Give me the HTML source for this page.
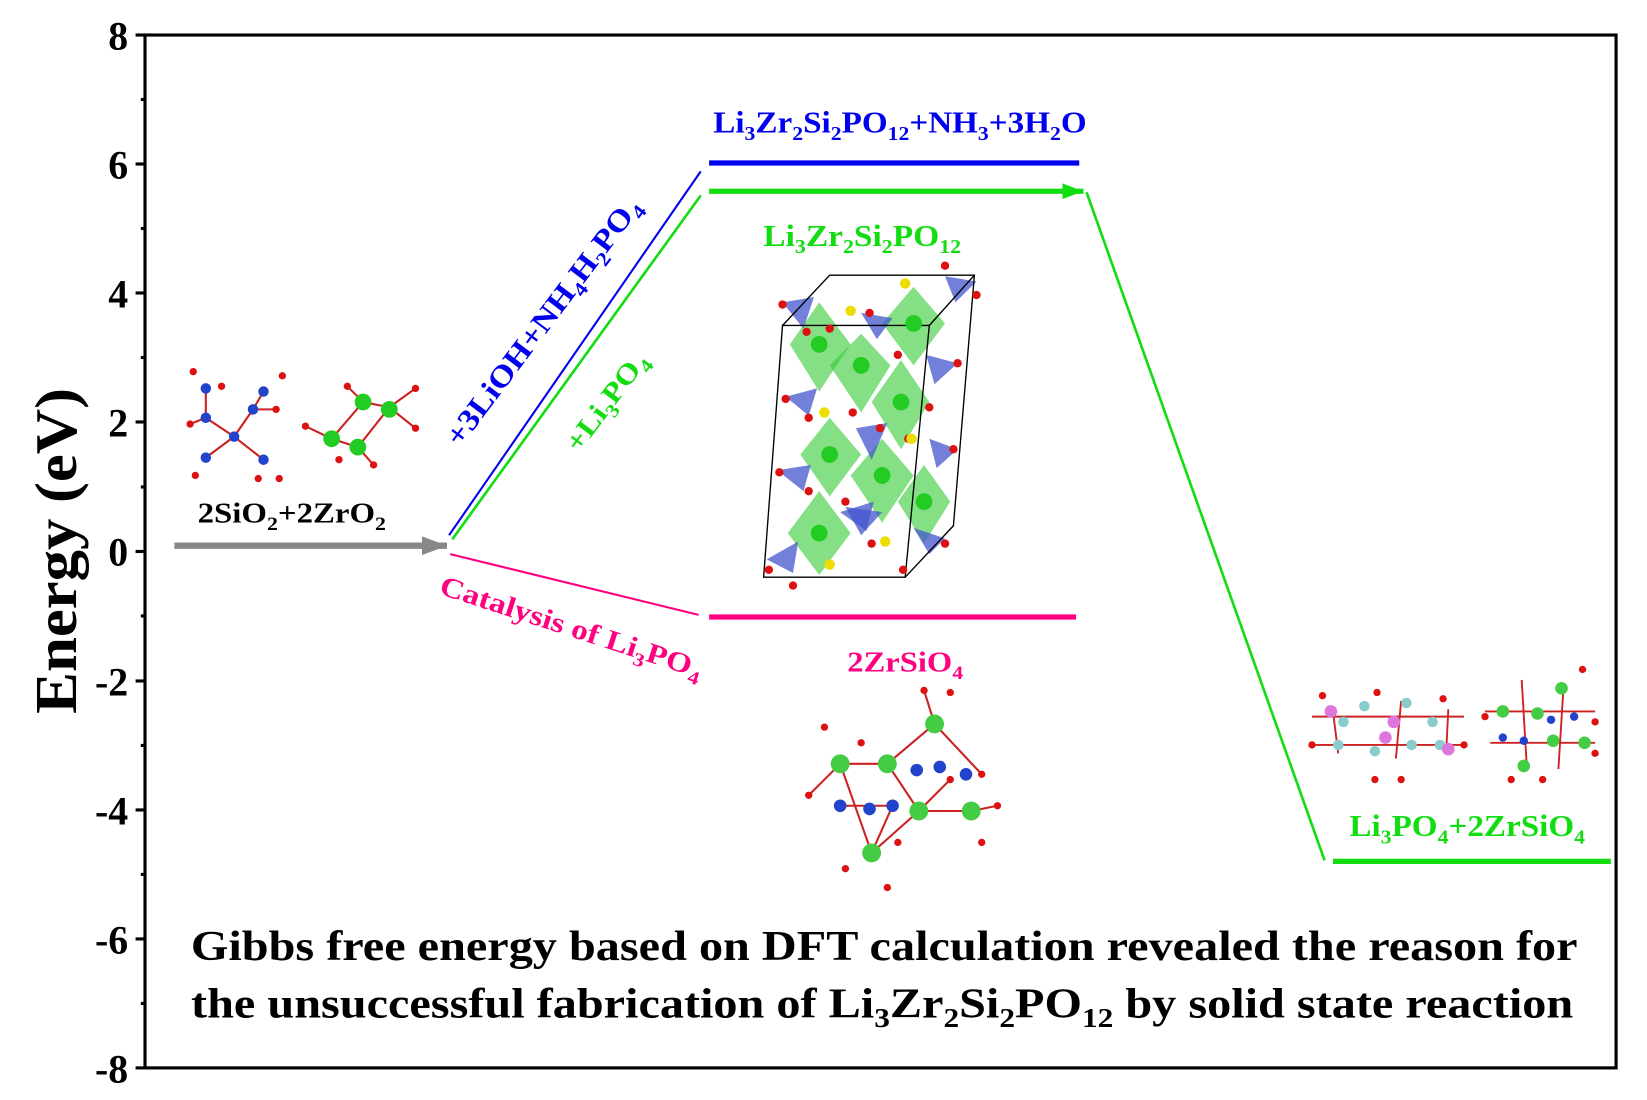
<!DOCTYPE html>
<html><head><meta charset="utf-8"><style>
html,body{margin:0;padding:0;background:#fff}
svg{display:block}
text{font-family:"Liberation Serif",serif;font-weight:bold}
</style></head><body>
<svg width="1647" height="1100" viewBox="-1.3 1.6 1570.8 1049" preserveAspectRatio="none" xmlns="http://www.w3.org/2000/svg">
<defs>
<marker id="ag" markerWidth="4" markerHeight="3" refX="4" refY="1.5" orient="auto" markerUnits="strokeWidth"><path d="M0,0 L4,1.5 L0,3 z" fill="#888"/></marker>
<marker id="agr" markerWidth="4" markerHeight="3" refX="4" refY="1.5" orient="auto" markerUnits="strokeWidth"><path d="M0,0 L4,1.5 L0,3 z" fill="#11dd11"/></marker>
</defs>
<rect x="137" y="35" width="1403" height="985" fill="none" stroke="#000" stroke-width="3"/>
<g stroke="#000" stroke-width="3">
<line x1="128" y1="35" x2="137" y2="35"/><line x1="128" y1="158" x2="137" y2="158"/><line x1="128" y1="281" x2="137" y2="281"/><line x1="128" y1="404" x2="137" y2="404"/><line x1="128" y1="527.5" x2="137" y2="527.5"/><line x1="128" y1="651" x2="137" y2="651"/><line x1="128" y1="774" x2="137" y2="774"/><line x1="128" y1="897" x2="137" y2="897"/><line x1="128" y1="1020" x2="137" y2="1020"/>
<line x1="133" y1="96.5" x2="137" y2="96.5"/><line x1="133" y1="219.5" x2="137" y2="219.5"/><line x1="133" y1="342.5" x2="137" y2="342.5"/><line x1="133" y1="466" x2="137" y2="466"/><line x1="133" y1="589" x2="137" y2="589"/><line x1="133" y1="712.5" x2="137" y2="712.5"/><line x1="133" y1="835.5" x2="137" y2="835.5"/><line x1="133" y1="958.5" x2="137" y2="958.5"/>
</g>
<g font-size="38" text-anchor="end" fill="#000">
<text x="121" y="49">8</text><text x="121" y="172">6</text><text x="121" y="295">4</text><text x="121" y="418">2</text><text x="121" y="541">0</text><text x="121" y="665">-2</text><text x="121" y="788">-4</text><text x="121" y="911">-6</text><text x="121" y="1034">-8</text>
</g>
<text transform="translate(71,527) rotate(-90) scale(1.05,1)" font-size="57" text-anchor="middle">Energy (eV)</text>

<!-- lines -->
<line x1="165" y1="522" x2="425" y2="522" stroke="#888" stroke-width="6" marker-end="url(#ag)"/>
<line x1="427" y1="512" x2="667" y2="165" stroke="#0000ee" stroke-width="2"/>
<line x1="430" y1="516" x2="667" y2="188" stroke="#11dd11" stroke-width="2.5"/>
<line x1="428" y1="530" x2="665" y2="588" stroke="#ff0080" stroke-width="2"/>
<line x1="675" y1="157" x2="1028" y2="157" stroke="#0000ee" stroke-width="5"/>
<line x1="675" y1="184" x2="1032" y2="184" stroke="#11dd11" stroke-width="5" marker-end="url(#agr)"/>
<line x1="1035" y1="185" x2="1262" y2="822" stroke="#11dd11" stroke-width="2.5"/>
<line x1="1270" y1="823" x2="1535" y2="823" stroke="#11dd11" stroke-width="5"/>
<line x1="675" y1="590" x2="1025" y2="590" stroke="#ff0080" stroke-width="5"/>

<!-- labels -->
<text transform="translate(857,128) scale(1.09,1)" font-size="29" fill="#0000ee" text-anchor="middle">Li<tspan font-size="19" dy="7">3</tspan><tspan dy="-7">Zr</tspan><tspan font-size="19" dy="7">2</tspan><tspan dy="-7">Si</tspan><tspan font-size="19" dy="7">2</tspan><tspan dy="-7">PO</tspan><tspan font-size="19" dy="7">12</tspan><tspan dy="-7">+NH</tspan><tspan font-size="19" dy="7">3</tspan><tspan dy="-7">+3H</tspan><tspan font-size="19" dy="7">2</tspan><tspan dy="-7">O</tspan></text>
<text transform="translate(821,236) scale(1.1,1)" font-size="29" fill="#11dd11" text-anchor="middle">Li<tspan font-size="19" dy="7">3</tspan><tspan dy="-7">Zr</tspan><tspan font-size="19" dy="7">2</tspan><tspan dy="-7">Si</tspan><tspan font-size="19" dy="7">2</tspan><tspan dy="-7">PO</tspan><tspan font-size="19" dy="7">12</tspan></text>
<text transform="translate(277,500) scale(1.16,1)" font-size="27" fill="#000" text-anchor="middle">2SiO<tspan font-size="18" dy="7">2</tspan><tspan dy="-7">+2ZrO</tspan><tspan font-size="18" dy="7">2</tspan></text>
<text transform="translate(862,642) scale(1.15,1)" font-size="27" fill="#ff0080" text-anchor="middle">2ZrSiO<tspan font-size="18" dy="7">4</tspan></text>
<text transform="translate(1398,799) scale(1.09,1)" font-size="29" fill="#11dd11" text-anchor="middle">Li<tspan font-size="19" dy="7">3</tspan><tspan dy="-7">PO</tspan><tspan font-size="19" dy="7">4</tspan><tspan dy="-7">+2ZrSiO</tspan><tspan font-size="19" dy="7">4</tspan></text>
<text transform="translate(524,314) rotate(-53) scale(1.13,1)" font-size="29" fill="#0000ee" text-anchor="middle">+3LiOH+NH<tspan font-size="19" dy="7">4</tspan><tspan dy="-7">H</tspan><tspan font-size="19" dy="7">2</tspan><tspan dy="-7">PO</tspan><tspan font-size="19" dy="7">4</tspan></text>
<text transform="translate(584,390) rotate(-53) scale(1.15,1)" font-size="27" fill="#11dd11" text-anchor="middle">+Li<tspan font-size="18" dy="7">3</tspan><tspan dy="-7">PO</tspan><tspan font-size="18" dy="7">4</tspan></text>
<text transform="translate(541,608) rotate(18) scale(1.18,1)" font-size="27" fill="#ff0080" text-anchor="middle">Catalysis of Li<tspan font-size="18" dy="7">3</tspan><tspan dy="-7">PO</tspan><tspan font-size="18" dy="7">4</tspan></text>

<g font-size="40" fill="#000" text-anchor="middle">
<text transform="translate(842,917) scale(1.15,1)">Gibbs free energy based on DFT calculation revealed the reason for</text>
<text transform="translate(840,972) scale(1.15,1)">the unsuccessful fabrication of Li<tspan font-size="26" dy="9">3</tspan><tspan dy="-9">Zr</tspan><tspan font-size="26" dy="9">2</tspan><tspan dy="-9">Si</tspan><tspan font-size="26" dy="9">2</tspan><tspan dy="-9">PO</tspan><tspan font-size="26" dy="9">12</tspan><tspan dy="-9"> by solid state reaction</tspan></text>
</g>

<!-- crystal Li3Zr2Si2PO12 -->
<g>
<g fill="#33cc33" fill-opacity="0.6">
<polygon points="780,290 810,330 780,375 752,330"/>
<polygon points="870,275 900,310 870,350 840,310"/>
<polygon points="820,320 848,350 820,395 790,350"/>
<polygon points="858,345 885,385 858,430 830,385"/>
<polygon points="790,400 820,435 790,475 762,435"/>
<polygon points="840,420 870,455 840,500 810,455"/>
<polygon points="880,445 905,480 880,520 855,480"/>
<polygon points="780,470 810,510 780,550 750,510"/>
</g>
<g fill="#4455cc" fill-opacity="0.75">
<polygon points="745,290 775,285 765,315"/><polygon points="820,300 850,305 835,325"/><polygon points="900,265 930,270 910,290"/>
<polygon points="748,380 778,372 770,398"/><polygon points="882,340 912,348 890,368"/><polygon points="815,410 845,405 830,440"/>
<polygon points="740,450 772,445 765,470"/><polygon points="885,420 912,430 892,448"/><polygon points="800,490 832,480 825,508"/>
<polygon points="730,535 760,518 755,548"/><polygon points="870,505 900,515 885,530"/><polygon points="805,485 840,490 820,512"/>
</g>
<g fill="none" stroke="#000" stroke-width="1.3">
<polygon points="745,312 885,312 862,552 727,552"/><polyline points="745,312 790,264 928,264 908,503 862,552"/><line x1="885" y1="312" x2="928" y2="264"/>
</g>
<g fill="#22cc22"><circle cx="780" cy="330" r="8"/><circle cx="870" cy="310" r="8"/><circle cx="820" cy="350" r="8"/><circle cx="858" cy="385" r="8"/><circle cx="790" cy="435" r="8"/><circle cx="840" cy="455" r="8"/><circle cx="880" cy="480" r="8"/><circle cx="780" cy="510" r="8"/></g>
<g fill="#dd1111"><circle cx="745" cy="292" r="4"/><circle cx="768" cy="318" r="4"/><circle cx="790" cy="315" r="4"/><circle cx="855" cy="340" r="4"/><circle cx="828" cy="300" r="4"/><circle cx="912" cy="348" r="4"/><circle cx="748" cy="382" r="4"/><circle cx="770" cy="400" r="4"/><circle cx="838" cy="410" r="4"/><circle cx="865" cy="420" r="4"/><circle cx="742" cy="452" r="4"/><circle cx="770" cy="470" r="4"/><circle cx="805" cy="480" r="4"/><circle cx="900" cy="520" r="4"/><circle cx="732" cy="545" r="4"/><circle cx="755" cy="560" r="4"/><circle cx="860" cy="545" r="4"/><circle cx="930" cy="283" r="4"/><circle cx="900" cy="255" r="4"/><circle cx="812" cy="395" r="4"/><circle cx="885" cy="390" r="4"/><circle cx="830" cy="520" r="4"/><circle cx="908" cy="430" r="4"/></g>
<g fill="#eedd00"><circle cx="810" cy="298" r="5"/><circle cx="862" cy="272" r="5"/><circle cx="785" cy="395" r="5"/><circle cx="868" cy="420" r="5"/><circle cx="843" cy="518" r="5"/><circle cx="790" cy="540" r="5"/></g>
</g>

<!-- SiO2 + ZrO2 -->
<g stroke="#cc2222" stroke-width="2" fill="none">
<path d="M195,372 L195,400 L222,418 L240,392 L250,375 M222,418 L195,438 M222,418 L250,440 M180,406 L195,400 M240,392 L262,392"/>
<path d="M345,385 L370,390 L340,428 L315,420 L345,385 M345,385 L330,370 M370,390 L395,372 M340,428 L355,445 M315,420 L290,408 M370,390 L395,410"/>
</g>
<g fill="#2244cc"><circle cx="195" cy="372" r="5"/><circle cx="195" cy="400" r="5"/><circle cx="222" cy="418" r="5"/><circle cx="240" cy="392" r="5"/><circle cx="250" cy="375" r="5"/><circle cx="195" cy="438" r="5"/><circle cx="250" cy="440" r="5"/></g>
<g fill="#22cc22"><circle cx="345" cy="385" r="8"/><circle cx="370" cy="392" r="8"/><circle cx="340" cy="428" r="8"/><circle cx="315" cy="420" r="8"/></g>
<g fill="#dd1111"><circle cx="183" cy="356" r="3.5"/><circle cx="210" cy="370" r="3.5"/><circle cx="180" cy="406" r="3.5"/><circle cx="262" cy="392" r="3.5"/><circle cx="268" cy="360" r="3.5"/><circle cx="185" cy="455" r="3.5"/><circle cx="265" cy="458" r="3.5"/><circle cx="245" cy="458" r="3.5"/><circle cx="330" cy="370" r="3.5"/><circle cx="395" cy="372" r="3.5"/><circle cx="395" cy="410" r="3.5"/><circle cx="290" cy="408" r="3.5"/><circle cx="355" cy="445" r="3.5"/><circle cx="322" cy="440" r="3.5"/></g>

<!-- ZrSiO4 -->
<g stroke="#cc2222" stroke-width="2" fill="none">
<path d="M800,730 L845,730 L875,775 L925,775 M845,730 L890,692 L935,740 M800,730 L830,815 L875,775 M830,815 L850,770 L800,770 M890,692 L880,660 M875,775 L905,745 M770,760 L800,730 M925,775 L950,770"/>
</g>
<g fill="#44cc44"><circle cx="800" cy="730" r="9"/><circle cx="845" cy="730" r="9"/><circle cx="890" cy="692" r="9"/><circle cx="875" cy="775" r="9"/><circle cx="925" cy="775" r="9"/><circle cx="830" cy="815" r="9"/></g>
<g fill="#2244cc"><circle cx="873" cy="736" r="6"/><circle cx="895" cy="733" r="6"/><circle cx="920" cy="740" r="6"/><circle cx="800" cy="770" r="6"/><circle cx="828" cy="773" r="6"/><circle cx="850" cy="770" r="6"/></g>
<g fill="#dd1111"><circle cx="880" cy="660" r="3.5"/><circle cx="905" cy="662" r="3.5"/><circle cx="785" cy="695" r="3.5"/><circle cx="770" cy="760" r="3.5"/><circle cx="950" cy="770" r="3.5"/><circle cx="935" cy="740" r="3.5"/><circle cx="805" cy="830" r="3.5"/><circle cx="845" cy="848" r="3.5"/><circle cx="855" cy="805" r="3.5"/><circle cx="935" cy="805" r="3.5"/><circle cx="905" cy="745" r="3.5"/><circle cx="820" cy="710" r="3.5"/></g>

<!-- Li3PO4 + ZrSiO4 -->
<g stroke="#cc2222" stroke-width="1.8" fill="none">
<path d="M1250,685 L1395,685 M1250,712 L1395,712 M1270,680 L1275,720 M1335,670 L1330,725 M1380,678 L1378,718 M1415,680 L1520,680 M1420,710 L1520,710 M1450,650 L1455,735 M1490,655 L1485,735"/>
</g>
<g fill="#88cccc"><circle cx="1280" cy="690" r="5"/><circle cx="1300" cy="675" r="5"/><circle cx="1340" cy="672" r="5"/><circle cx="1365" cy="690" r="5"/><circle cx="1275" cy="712" r="5"/><circle cx="1310" cy="718" r="5"/><circle cx="1345" cy="712" r="5"/><circle cx="1372" cy="712" r="5"/></g>
<g fill="#dd77dd"><circle cx="1268" cy="680" r="6"/><circle cx="1328" cy="690" r="6"/><circle cx="1320" cy="705" r="6"/><circle cx="1380" cy="716" r="6"/></g>
<g fill="#44cc44"><circle cx="1432" cy="680" r="6"/><circle cx="1465" cy="682" r="6"/><circle cx="1488" cy="658" r="6"/><circle cx="1480" cy="708" r="6"/><circle cx="1510" cy="710" r="6"/><circle cx="1452" cy="732" r="6"/></g>
<g fill="#2244cc"><circle cx="1432" cy="705" r="4"/><circle cx="1478" cy="688" r="4"/><circle cx="1500" cy="685" r="4"/><circle cx="1452" cy="708" r="4"/></g>
<g fill="#dd1111"><circle cx="1260" cy="665" r="3.5"/><circle cx="1312" cy="662" r="3.5"/><circle cx="1375" cy="668" r="3.5"/><circle cx="1250" cy="712" r="3.5"/><circle cx="1395" cy="712" r="3.5"/><circle cx="1310" cy="745" r="3.5"/><circle cx="1335" cy="745" r="3.5"/><circle cx="1415" cy="685" r="3.5"/><circle cx="1520" cy="690" r="3.5"/><circle cx="1508" cy="640" r="3.5"/><circle cx="1440" cy="745" r="3.5"/><circle cx="1470" cy="745" r="3.5"/><circle cx="1520" cy="720" r="3.5"/></g>
</svg>
</body></html>
